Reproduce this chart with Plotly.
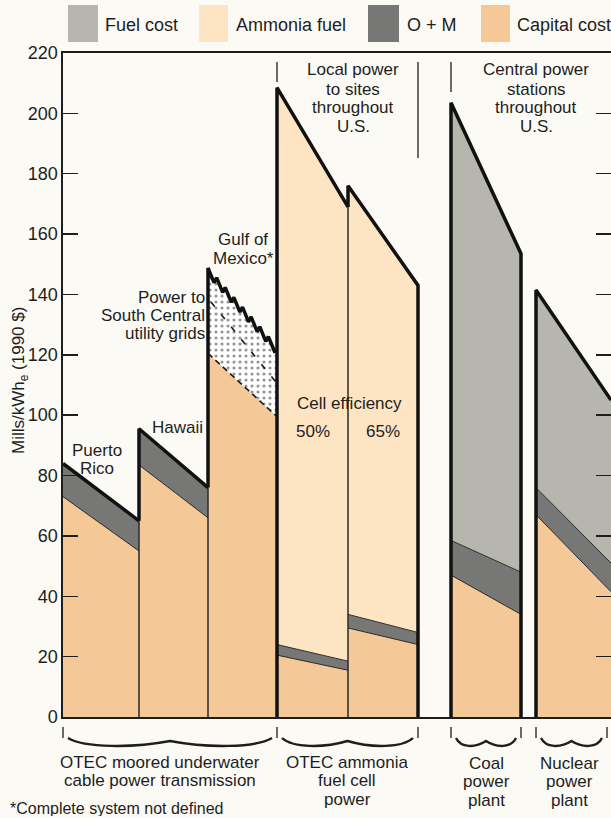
import plotly.graph_objects as go

# ---------------- data: Mills/kWh_e (1990 $), value at left and right edge of each sloped bar
bars = ["Puerto Rico", "Hawaii", "Gulf of Mexico", "Fuel cell 50%", "Fuel cell 65%", "Coal", "Nuclear"]
capital_left = [73.0, 83.5, 120.5, 20.5, 29.5, 47.0, 67.0]
capital_right = [55.0, 66.0, 99.5, 15.5, 24.0, 34.0, 41.5]
om_left = [11.0, 12.0, 0.0, 3.5, 4.5, 11.5, 9.0]
om_right = [10.0, 10.0, 0.0, 3.0, 4.0, 14.0, 9.5]
ammonia_left = [0.0, 0.0, 0.0, 184.5, 142.0, 0.0, 0.0]
ammonia_right = [0.0, 0.0, 0.0, 150.5, 115.0, 0.0, 0.0]
fuel_left = [0.0, 0.0, 0.0, 0.0, 0.0, 145.0, 65.5]
fuel_right = [0.0, 0.0, 0.0, 0.0, 0.0, 105.5, 54.0]
undefined_left = [0.0, 0.0, 27.0, 0.0, 0.0, 0.0, 0.0]   # power to South Central grids (not defined)
undefined_right = [0.0, 0.0, 22.0, 0.0, 0.0, 0.0, 0.0]
gulf_split_left = 137.5
gulf_split_right = 110.5
y_ticks = [0, 20, 40, 60, 80, 100, 120, 140, 160, 180, 200, 220]
legend_labels = ["Fuel cost", "Ammonia fuel", "O + M", "Capital cost"]

# ---------------- layout / style
bar_x0 = [0, 76, 145, 214, 285, 388, 473]
bar_x1 = [76, 145, 214, 285, 355, 458, 548]
left_edge = [None, "step", "step", "full", "step", "full", "full"]
right_edge = [None, None, None, None, "full", "full", None]
X_RANGE = [0, 548]
C_CAP = "#f5c898"
C_AMM = "#fde4c3"
C_OM = "#777876"
C_FUEL = "#b6b6ae"
BG = "#fbfaf5"
INK = "#1e1e1e"
FONT = "Liberation Sans, Arial, sans-serif"
L, R, T, B = 63, 611, 53, 717


def PX(px):
    return (px - L) / (R - L)


def PY(py):
    return (B - py) / (B - T)


layers = [
    ("Capital cost", capital_left, capital_right, C_CAP),
    ("O + M", om_left, om_right, C_OM),
    ("Ammonia fuel", ammonia_left, ammonia_right, C_AMM),
    ("Fuel cost", fuel_left, fuel_right, C_FUEL),
    ("undefined", undefined_left, undefined_right, "#ffffff"),
]


def zig(x0, x1, yl, yr, n=8, amp=1.3):
    xs, ys = [], []
    for k in range(n):
        for t, off in ((k / n, amp), ((k + 0.7) / n, -amp)):
            xs.append(x0 + (x1 - x0) * t)
            ys.append(yl + (yr - yl) * t + off)
    xs.append(x1)
    ys.append(yr)
    return xs, ys


fig = go.Figure()
thin_x, thin_y = [], []
dash_x, dash_y = [], []
thick_x, thick_y = [], []
tot_l, tot_r = [], []

for i in range(len(bars)):
    x0, x1 = bar_x0[i], bar_x1[i]
    bl = br = 0.0
    bounds = []
    top_edge = None
    for name, lv, rv, col in layers:
        if lv[i] == 0 and rv[i] == 0:
            continue
        tl, tr = bl + lv[i], br + rv[i]
        if name == "undefined":
            zx, zy = zig(x0, x1, tl, tr)
            top_edge = (zx, zy)
            px = [x0, x1] + zx[::-1] + [x0]
            py = [bl, br] + zy[::-1] + [bl]
            fig.add_trace(go.Scatter(
                x=px, y=py, mode="lines", fill="toself", fillcolor="#ffffff",
                fillpattern=dict(shape=".", bgcolor="#ffffff", fgcolor="#2a2a2a", size=6, solidity=0.22),
                line=dict(width=0), hoverinfo="skip", showlegend=False))
        else:
            fig.add_trace(go.Scatter(
                x=[x0, x1, x1, x0, x0], y=[bl, br, tr, tl, bl], mode="lines",
                fill="toself", fillcolor=col, line=dict(width=0),
                hoverinfo="skip", showlegend=False))
        if bl > 0 or br > 0:
            bounds.append((bl, br, name))
        bl, br = tl, tr
    tot_l.append(bl)
    tot_r.append(br)
    for a, b, name in bounds:
        if name == "undefined":
            dash_x += [x0, x1, None]
            dash_y += [a, b, None]
        else:
            thin_x += [x0, x1, None]
            thin_y += [a, b, None]
    # thin vertical edges
    if x0 > X_RANGE[0]:
        thin_x += [x0, x0, None]
        thin_y += [0, bl, None]
    if x1 < X_RANGE[1]:
        thin_x += [x1, x1, None]
        thin_y += [0, br, None]
    # thick outline
    xs, ys = [], []
    if left_edge[i] == "full":
        xs.append(x0); ys.append(0)
    elif left_edge[i] == "step":
        xs.append(x0); ys.append(tot_r[i - 1])
    if top_edge is not None:
        xs += [x0] + top_edge[0]
        ys += [bl + 1.3] + top_edge[1]
    else:
        xs += [x0, x1]
        ys += [bl, br]
    if right_edge[i] == "full":
        xs.append(x1); ys.append(0)
    thick_x += xs + [None]
    thick_y += ys + [None]

gi = bars.index("Gulf of Mexico")
fig.add_trace(go.Scatter(x=thin_x, y=thin_y, mode="lines", line=dict(color="#2a2a2a", width=1),
                         hoverinfo="skip", showlegend=False, yaxis="y2"))
fig.add_trace(go.Scatter(x=dash_x, y=dash_y, mode="lines",
                         line=dict(color="#1a1a1a", width=1.6, dash="6px,4px"),
                         hoverinfo="skip", showlegend=False, yaxis="y2"))
fig.add_trace(go.Scatter(x=[bar_x0[gi] + 3, bar_x1[gi]], y=[gulf_split_left, gulf_split_right], mode="lines",
                         line=dict(color="#1a1a1a", width=1.6, dash="6px,10px"),
                         hoverinfo="skip", showlegend=False, yaxis="y2"))
fig.add_trace(go.Scatter(x=thick_x, y=thick_y, mode="lines", line=dict(color="#111111", width=3.5),
                         hoverinfo="skip", showlegend=False, yaxis="y2"))

shapes = []
annotations = []


def ann(text, xpx, ypx, anchor="center", size=17, h=17):
    annotations.append(dict(text=text, x=PX(xpx), y=PY(ypx), xref="paper", yref="paper",
                            xanchor=anchor, yanchor="middle", showarrow=False, borderpad=0, height=h,
                            font=dict(family=FONT, size=size, color=INK)))


# legend
legend_colors = [C_FUEL, C_AMM, C_OM, C_CAP]
sw_x = [(68, 98), (199, 228), (368, 399), (481, 510)]
tx_x = [104, 235, 406, 516]
for lab, col, (a, b), tx in zip(legend_labels, legend_colors, sw_x, tx_x):
    shapes.append(dict(type="rect", xref="paper", yref="paper", x0=PX(a), x1=PX(b), y0=PY(42), y1=PY(5),
                       fillcolor=col, line=dict(width=0)))
    ann(lab, tx, 25, "left", size=18, h=20)

# in-plot labels
ann("Puerto", 97, 450)
ann("Rico", 97, 468)
ann("Hawaii", 177, 428)
ann("Gulf of", 243, 240)
ann("Mexico*", 243, 258)
for t, y in (("Power to", 297), ("South Central", 315), ("utility grids", 333)):
    ann(t, 206, y, "right")
ann("Cell efficiency", 349, 403)
ann("50%", 313, 431)
ann("65%", 383, 431)
for t, y in (("Local power", 70), ("to sites", 89), ("throughout", 107), ("U.S.", 126)):
    ann(t, 353, y)
for t, y in (("Central power", 70), ("stations", 89), ("throughout", 107), ("U.S.", 126)):
    ann(t, 536, y)

# separators at top (at bar edges)
for xb, ytop, ybot in ((bar_x0[3], 62, 82), (bar_x1[4], 62, 158), (bar_x0[5], 62, 92)):
    shapes.append(dict(type="line", xref="paper", yref="paper", x0=PX(L + xb), x1=PX(L + xb),
                       y0=PY(ybot), y1=PY(ytop), line=dict(color=INK, width=1.3)))

# brackets under the axis
ticks_px = [L + 0, L + 214, L + 355, L + 388, L + 458, L + 473, L + 544]
for xp in ticks_px:
    shapes.append(dict(type="line", xref="paper", yref="paper", x0=PX(xp), x1=PX(xp),
                       y0=PY(738), y1=PY(727), line=dict(color=INK, width=1.3)))
spans = [(L + 0, L + 214), (L + 214, L + 355), (L + 388, L + 458), (L + 473, L + 544)]
for a, b in spans:
    a += 5
    b -= 5
    w = b - a
    pts = [(a, 738), (a + 0.08 * w, 748), (a + 0.32 * w, 748), (a + 0.5 * w, 741),
           (a + 0.68 * w, 748), (b - 0.08 * w, 748), (b, 738)]
    p = [(PX(x), PY(y)) for x, y in pts]
    path = "M {:.5f},{:.5f} C {:.5f},{:.5f} {:.5f},{:.5f} {:.5f},{:.5f} C {:.5f},{:.5f} {:.5f},{:.5f} {:.5f},{:.5f}".format(
        *[c for pt in p for c in pt])
    shapes.append(dict(type="path", xref="paper", yref="paper", path=path, line=dict(color=INK, width=2.4)))

for t, y in (("OTEC moored underwater", 762), ("cable power transmission", 780.5)):
    ann(t, 160, y)
for t, y in (("OTEC ammonia", 762), ("fuel cell", 780.5), ("power", 799)):
    ann(t, 347, y)
for t, y in (("Coal", 763), ("power", 781.5), ("plant", 800)):
    ann(t, 486, y)
for t, y in (("Nuclear", 763), ("power", 781.5), ("plant", 800)):
    ann(t, 569, y)
ann("*Complete system not defined", 9, 808, "left", size=16, h=16)

# y-axis title
annotations.append(dict(text="Mills/kWh<sub>e</sub> (1990 $)", x=PX(20), y=PY(381), xref="paper", yref="paper",
                        textangle=-90, showarrow=False, xanchor="center", yanchor="middle",
                        font=dict(family=FONT, size=17, color=INK)))

fig.update_layout(
    width=611, height=818, autosize=False,
    margin=dict(l=L, r=611 - R, t=T, b=818 - B, pad=0),
    paper_bgcolor=BG, plot_bgcolor=BG,
    showlegend=False, hovermode=False,
    font=dict(family=FONT, size=18, color=INK),
    xaxis=dict(range=X_RANGE, showgrid=False, zeroline=False, showticklabels=False, ticks="",
               showline=True, linecolor=INK, linewidth=1.6, mirror=True, fixedrange=True),
    yaxis=dict(range=[0, 220], tickvals=y_ticks, ticks="inside", ticklen=15, tickwidth=1.5, tickcolor=INK,
               showgrid=False, zeroline=False, showline=True, linecolor=INK, linewidth=1.6,
               tickfont=dict(family=FONT, size=18, color=INK), fixedrange=True),
    yaxis2=dict(range=[0, 220], overlaying="y", side="right", tickvals=y_ticks[1:-1], ticks="inside",
                ticklen=15, tickwidth=1.5, tickcolor=INK, showticklabels=False, showgrid=False,
                zeroline=False, showline=False, fixedrange=True),
    shapes=shapes,
    annotations=annotations,
)

fig.write_html("out.html", config={"displayModeBar": False, "staticPlot": True},
               post_script="document.body.style.margin='0px';document.body.style.padding='0px';"
                           "document.body.style.background='" + BG + "';")
